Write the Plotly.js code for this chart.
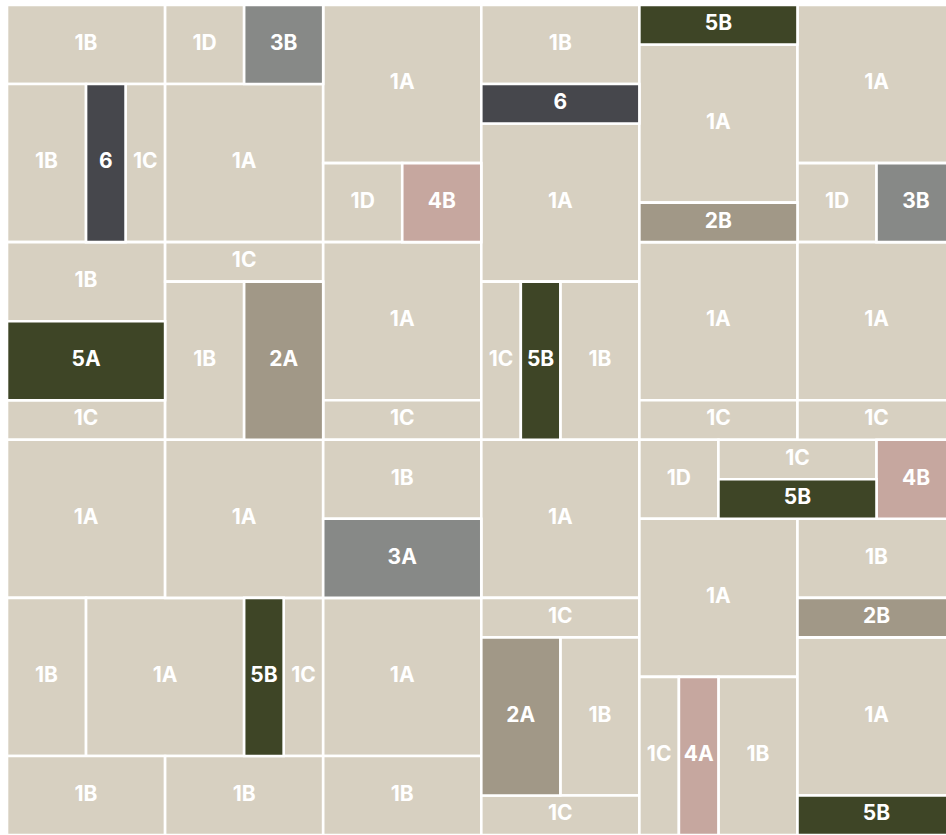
<!DOCTYPE html>
<html>
<head>
<meta charset="utf-8">
<script src="https://cdn.plot.ly/plotly-3.0.1.min.js"></script>
<style>html,body{margin:0;padding:0;background:#fff;}#chart{width:946px;height:835px;}</style>
</head>
<body>
<div id="chart"></div>
<script>
// Tile layout in grid units (one unit = a quarter of a full 1A tile side)
const tileCodes = ["1B","1B","6","1C","1B","5A","1C","1A","1B","1A","5B","1C","1B","1B",
  "1D","3B","1A","1C","1B","2A","1A",
  "1A","1D","4B","1A","1C","1B","3A","1A","1B",
  "1B","6","1A","1C","5B","1B","1A","1C","2A","1B","1C",
  "5B","1A","2B","1A","1C","1D","1C","5B","4B","1A","1C","4A","1B",
  "1A","1D","3B","1A","1C","1B","2B","1A","5B"];
const tileX = [0,0,2,3,0,0,0,0,0,2,6,7,0,4,
  4,6,4,4,4,6,4,
  8,8,10,8,8,8,8,8,8,
  12,12,12,12,13,14,12,12,12,14,12,
  16,16,16,16,16,16,18,18,22,16,16,17,18,
  20,20,22,20,20,20,20,20,20];
const tileY = [0,2,2,2,6,8,10,11,15,15,15,15,19,19,
  0,0,2,6,7,7,11,
  0,4,4,6,10,11,13,15,19,
  0,2,3,7,7,7,11,15,16,16,20,
  0,1,5,6,10,11,11,12,11,13,17,17,17,
  0,4,4,6,10,13,15,16,20];
const tileW = [4,2,1,1,4,4,4,4,2,4,1,1,4,4,
  2,2,4,4,2,2,4,
  4,2,2,4,4,4,4,4,4,
  4,4,4,1,1,2,4,4,2,2,4,
  4,4,4,4,4,2,4,4,2,4,1,1,2,
  4,2,2,4,4,4,4,4,4];
const tileH = [2,4,4,4,2,2,1,4,4,4,4,4,2,2,
  2,2,4,1,4,4,4,
  4,2,2,4,1,2,2,4,2,
  2,1,4,4,4,4,4,1,4,4,1,
  1,4,1,4,1,2,1,1,2,4,4,4,4,
  4,2,2,4,1,2,1,4,1];

const familyColors = {"1":"#d7d0c1","2":"#a19887","3":"#878987","4":"#c6a79f","5":"#3e4526","6":"#46474c"};
const familyOrder = ["1","2","3","4","5","6"];

const traces = [];
familyOrder.forEach(f => {
  const xs=[], ws=[], bs=[], hs=[];
  tileCodes.forEach((c,i) => {
    if (c[0] !== f) return;
    xs.push(tileX[i] + tileW[i]/2);
    ws.push(tileW[i]);
    bs.push(tileY[i]);
    hs.push(tileH[i]);
  });
  traces.push({
    type:"bar", x:xs, y:hs, base:bs, width:ws,
    marker:{color:familyColors[f], line:{color:"#ffffff", width:2.6}},
    hoverinfo:"skip", showlegend:false
  });
});

traces.push({
  type:"scatter", mode:"text",
  x: tileCodes.map((c,i)=>tileX[i]+tileW[i]/2),
  y: tileCodes.map((c,i)=>tileY[i]+tileH[i]/2),
  text: tileCodes,
  textfont:{family:"Inter, 'Open Sans', sans-serif", size:21, color:"#ffffff", weight:"bold"},
  cliponaxis:false, hoverinfo:"skip", showlegend:false
});

const unitPx = 830/21;
const layout = {
  width:946, height:835,
  margin:{l:7, r:0, t:5, b:0},
  paper_bgcolor:"#ffffff", plot_bgcolor:"#ffffff",
  barmode:"overlay", bargap:0,
  xaxis:{range:[0, 939/unitPx], visible:false, fixedrange:true},
  yaxis:{range:[21, 0], visible:false, fixedrange:true},
  showlegend:false
};
Plotly.newPlot("chart", traces, layout, {displayModeBar:false, staticPlot:true});
</script>
</body>
</html>
